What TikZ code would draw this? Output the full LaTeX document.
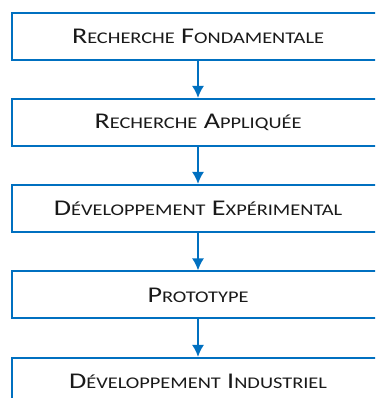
\documentclass[tikz,border=0pt]{standalone}
\usepackage{fontspec}
\setmainfont{Carlito}
\newfontfamily\etiquette[FakeStretch=1.25]{Carlito}
\usetikzlibrary{arrows.meta}
\definecolor{bleu}{RGB}{0,112,192}
\newcommand{\pc}[1]{{\fontsize{16.3}{18}\selectfont #1}}
\tikzset{etape/.style={draw=bleu, line width=2pt, minimum width=372pt, minimum height=47pt, inner sep=0pt, text=black!90, font=\etiquette\fontsize{22.5}{24}\selectfont}}

\begin{document}
\begin{tikzpicture}[x=1pt,y=1pt]
	  \useasboundingbox (0, 0) rectangle (375, 398);
	  \clip (0, 0) rectangle (375, 398);
	  % les cinq etapes
	  \node[etape] (fond) at (198, 361.5) {R\pc{ECHERCHE} F\pc{ONDAMENTALE}};
	  \node[etape] (appl) at (198, 275.5) {R\pc{ECHERCHE} A\pc{PPLIQUÉE}};
	  \node[etape] (exper) at (198, 189.5) {D\pc{ÉVELOPPEMENT} E\pc{XPÉRIMENTAL}};
	  \node[etape] (proto) at (198, 103) {P\pc{ROTOTYPE}};
	  \node[etape] (indus) at (198, 16.5) {D\pc{ÉVELOPPEMENT} I\pc{NDUSTRIEL}};
	  % fleches
	  \draw[->,>={Latex[length=12pt,width=12pt]},bleu,line width=2pt](fond) -- (appl);
	  \draw[->,>={Latex[length=12pt,width=12pt]},bleu,line width=2pt](appl) -- (exper);
	  \draw[->,>={Latex[length=12pt,width=12pt]},bleu,line width=2pt](exper) -- (proto);
	  \draw[->,>={Latex[length=12pt,width=12pt]},bleu,line width=2pt](proto) -- (indus);
\end{tikzpicture}
\end{document}
